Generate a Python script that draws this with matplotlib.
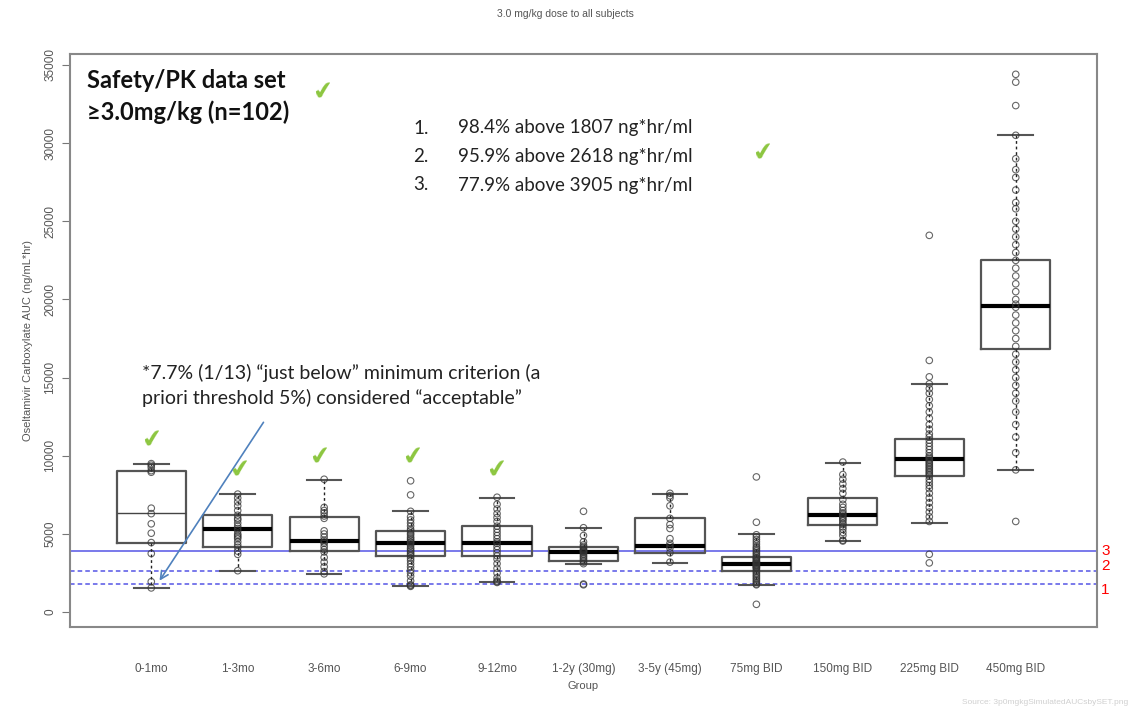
#!/usr/bin/env python3

import matplotlib
matplotlib.use('Agg')
import matplotlib.pyplot as plt

# === DATA ===
groups = ['0-1mo', '1-3mo', '3-6mo', '6-9mo', '9-12mo', '1-2y (30mg)', '3-5y (45mg)',
          '75mg BID', '150mg BID', '225mg BID', '450mg BID']

q1 = [4400, 4180, 3920, 3600, 3580, 3280, 3800, 2640, 5560, 8700, 16820]
med = [6310, 5350, 4560, 4450, 4450, 3860, 4240, 3110, 6200, 9780, 19570]
q3 = [9020, 6200, 6100, 5180, 5500, 4180, 6030, 3500, 7310, 11060, 22550]
whislo = [1520, 2620, 2470, 1660, 1900, 3070, 3160, 1730, 4540, 5710, 9080]
whishi = [9470, 7530, 8480, 6460, 7330, 5390, 7550, 4970, 9570, 14580, 30500]

points = [
    [9500, 9400, 9250, 9050, 8950, 6650, 6300, 5650, 5050, 4450, 3750, 1950, 1550],
    [7550, 7300, 7050, 6800, 6500, 6200, 6000, 5900, 5700, 5500, 5350, 5200, 5000, 4900,
     4800, 4700, 4500, 4300, 4150, 3900, 3700, 2650],
    [8500, 6700, 6500, 6350, 6150, 6000, 5200, 5000, 4800, 4600, 4500, 4400, 4200, 4000,
     3850, 3500, 3200, 2900, 2600, 2450],
    [8400, 7500, 6450, 6100, 5900, 5700, 5500, 5300, 5200, 5050, 4950, 4800, 4700, 4600,
     4500, 4450, 4350, 4250, 4100, 4000, 3900, 3800, 3700, 3600, 3450, 3300, 3100, 2900,
     2700, 2500, 2300, 2000, 1750, 1700, 1650],
    [7350, 6900, 6600, 6300, 6050, 5800, 5500, 5300, 5100, 4900, 4700, 4500, 4400, 4200,
     4000, 3800, 3600, 3400, 3100, 2800, 2500, 2200, 2000, 1950, 1900],
    [6450, 5400, 4900, 4500, 4300, 4200, 4100, 4000, 3950, 3900, 3850, 3800, 3700, 3600,
     3500, 3400, 3300, 3200, 3100, 1800, 1750],
    [7600, 7450, 7300, 6800, 6000, 5600, 5350, 4700, 4400, 4250, 4100, 3800, 3200],
    [8650, 5750, 4950, 4800, 4650, 4500, 4350, 4200, 4100, 4000, 3900, 3800, 3700, 3600,
     3500, 3450, 3400, 3300, 3250, 3200, 3150, 3100, 3050, 3000, 2950, 2900, 2850, 2800,
     2700, 2600, 2500, 2400, 2300, 2200, 2100, 2000, 1900, 1800, 1750, 500],
    [9600, 8800, 8500, 8200, 7900, 7600, 7200, 6900, 6700, 6500, 6350, 6250, 6150, 6050,
     5950, 5850, 5700, 5600, 5450, 5300, 5100, 4900, 4600, 4550],
    [24100, 16100, 15050, 14600, 14300, 14000, 13600, 13200, 12800, 12400, 12000, 11700,
     11400, 11200, 11000, 10800, 10600, 10400, 10200, 10000, 9900, 9800, 9700, 9600, 9500,
     9400, 9300, 9200, 9100, 9000, 8900, 8800, 8700, 8500, 8300, 8100, 7900, 7600, 7300,
     7000, 6700, 6400, 6100, 5800, 3700, 3150],
    [34400, 33900, 32400, 30500, 29000, 28300, 27800, 27000, 26200, 25800, 25000, 24500,
     24000, 23500, 23000, 22500, 22000, 21500, 21000, 20500, 20000, 19700, 19500, 19000,
     18500, 18000, 17500, 17000, 16500, 16000, 15500, 15000, 14500, 14000, 13500, 12800,
     12000, 11200, 10200, 9100, 5800],
]

thresholds = [3905, 2618, 1807]
threshold_labels = ['3', '2', '1']
threshold_styles = ['-', (0, (3, 2)), (0, (3, 2))]

criteria = ['98.4% above 1807 ng*hr/ml',
            '95.9% above 2618 ng*hr/ml',
            '77.9% above 3905 ng*hr/ml']
# === END DATA ===

W, H = 1130, 712
TXT = '#555555'
GREEN = '#8cc63f'
BLUE = '#5555e6'


def fx(px):
    return px / W


def fy(py):
    return 1 - py / H


fig = plt.figure(figsize=(W / 100, H / 100), dpi=100)
ax = fig.add_axes([fx(70), fy(627), fx(1097) - fx(70), fy(54) - fy(627)])

positions = list(range(1, len(groups) + 1))
stats = []
for i, name in enumerate(groups):
    stats.append({'label': name, 'q1': q1[i], 'med': med[i], 'q3': q3[i],
                  'whislo': whislo[i], 'whishi': whishi[i], 'fliers': []})

# threshold lines behind boxes
for val, ls in zip(thresholds, threshold_styles):
    ax.axhline(val, color=BLUE, linestyle=ls, linewidth=1.1, zorder=1)

bp = ax.bxp(stats, positions=positions, widths=0.8, capwidths=0.4, showfliers=False,
            boxprops=dict(color='#555555', linewidth=1.6),
            whiskerprops=dict(color='#222222', linestyle=(0, (2, 2)), linewidth=1.0),
            capprops=dict(color='#555555', linewidth=1.5),
            medianprops=dict(color='black', linewidth=3.0))
# first group median drawn thin in the original
bp['medians'][0].set_linewidth(1.0)
bp['medians'][0].set_color('#444444')

for x, vals in zip(positions, points):
    ax.scatter([x] * len(vals), vals, s=22, facecolors='none', edgecolors='#333333',
               linewidths=0.8, alpha=0.75, zorder=3)

ax.set_xlim(0.06, 11.94)
ax.set_ylim(-950, 35700)
ax.set_yticks(range(0, 35001, 5000))
ax.set_yticklabels([str(v) for v in range(0, 35001, 5000)], rotation=90, va='center',
                   fontsize=8.5, color=TXT, family='Liberation Sans')
ax.set_xticks(positions)
ax.set_xticklabels(groups, fontsize=8.5, color=TXT, family='Liberation Sans')
ax.tick_params(axis='x', length=0, pad=26)
ax.tick_params(axis='y', length=6, color='#777777', pad=4)
for s in ax.spines.values():
    s.set_color('#888888')
    s.set_linewidth(1.5)

ax.set_ylabel('Oseltamivir Carboxylate AUC (ng/mL*hr)', fontsize=8, color=TXT,
              family='Liberation Sans', labelpad=8)
ax.set_xlabel('Group', fontsize=8, color=TXT, family='Liberation Sans', labelpad=4)

label_shift = {'3': 0, '2': 350, '1': -420}
for val, lab in zip(thresholds, threshold_labels):
    ax.annotate(lab, xy=(1.004, val + label_shift[lab]), xycoords=('axes fraction', 'data'),
                color='red', fontsize=11, va='center', ha='left', family='Liberation Sans')

fig.text(0.5, fy(14), '3.0 mg/kg dose to all subjects', ha='center', va='center',
         fontsize=7.5, color=TXT, family='Liberation Sans')
fig.text(fx(1128), fy(703), 'Source: 3p0mgkgSimulatedAUCsbySET.png', ha='right',
         va='center', fontsize=6, color='#d0d0d0', family='Liberation Sans')

# slide-style annotations
fig.text(fx(87), fy(80), 'Safety/PK data set', fontsize=17, fontweight='bold',
         family='Lato', color='#111111', va='center')
fig.text(fx(87), fy(112), '≥3.0mg/kg (n=102)', fontsize=17, fontweight='bold',
         family='Lato', color='#111111', va='center')

for i, line in enumerate(criteria):
    yy = fy(128 + i * 28.5)
    fig.text(fx(413), yy, f'{i + 1}.', fontsize=13.5, family='Lato', color='#222222',
             va='center')
    fig.text(fx(458), yy, line, fontsize=13.5, family='Lato', color='#222222', va='center')

fig.text(fx(142), fy(373), '*7.7% (1/13) \u201cjust below\u201d minimum criterion (a',
         fontsize=14, family='Lato', color='#222222', va='center')
fig.text(fx(142), fy(398), 'priori threshold 5%) considered \u201cacceptable\u201d',
         fontsize=14, family='Lato', color='#222222', va='center')

ax.annotate('', xy=(fx(158), fy(583)), xycoords='figure fraction',
            xytext=(fx(265), fy(420)), textcoords='figure fraction',
            arrowprops=dict(arrowstyle='->', color='#4f81bd', lw=1.2,
                            mutation_scale=14))

checks = [(323, 92), (763, 153), (152, 440), (240, 470), (320, 457), (413, 457), (497, 470)]
for cx, cy in checks:
    fig.text(fx(cx), fy(cy), '\u2714', fontsize=18, color=GREEN, family='DejaVu Sans',
             ha='center', va='center', rotation=8)

plt.savefig('out.png', dpi=100)
